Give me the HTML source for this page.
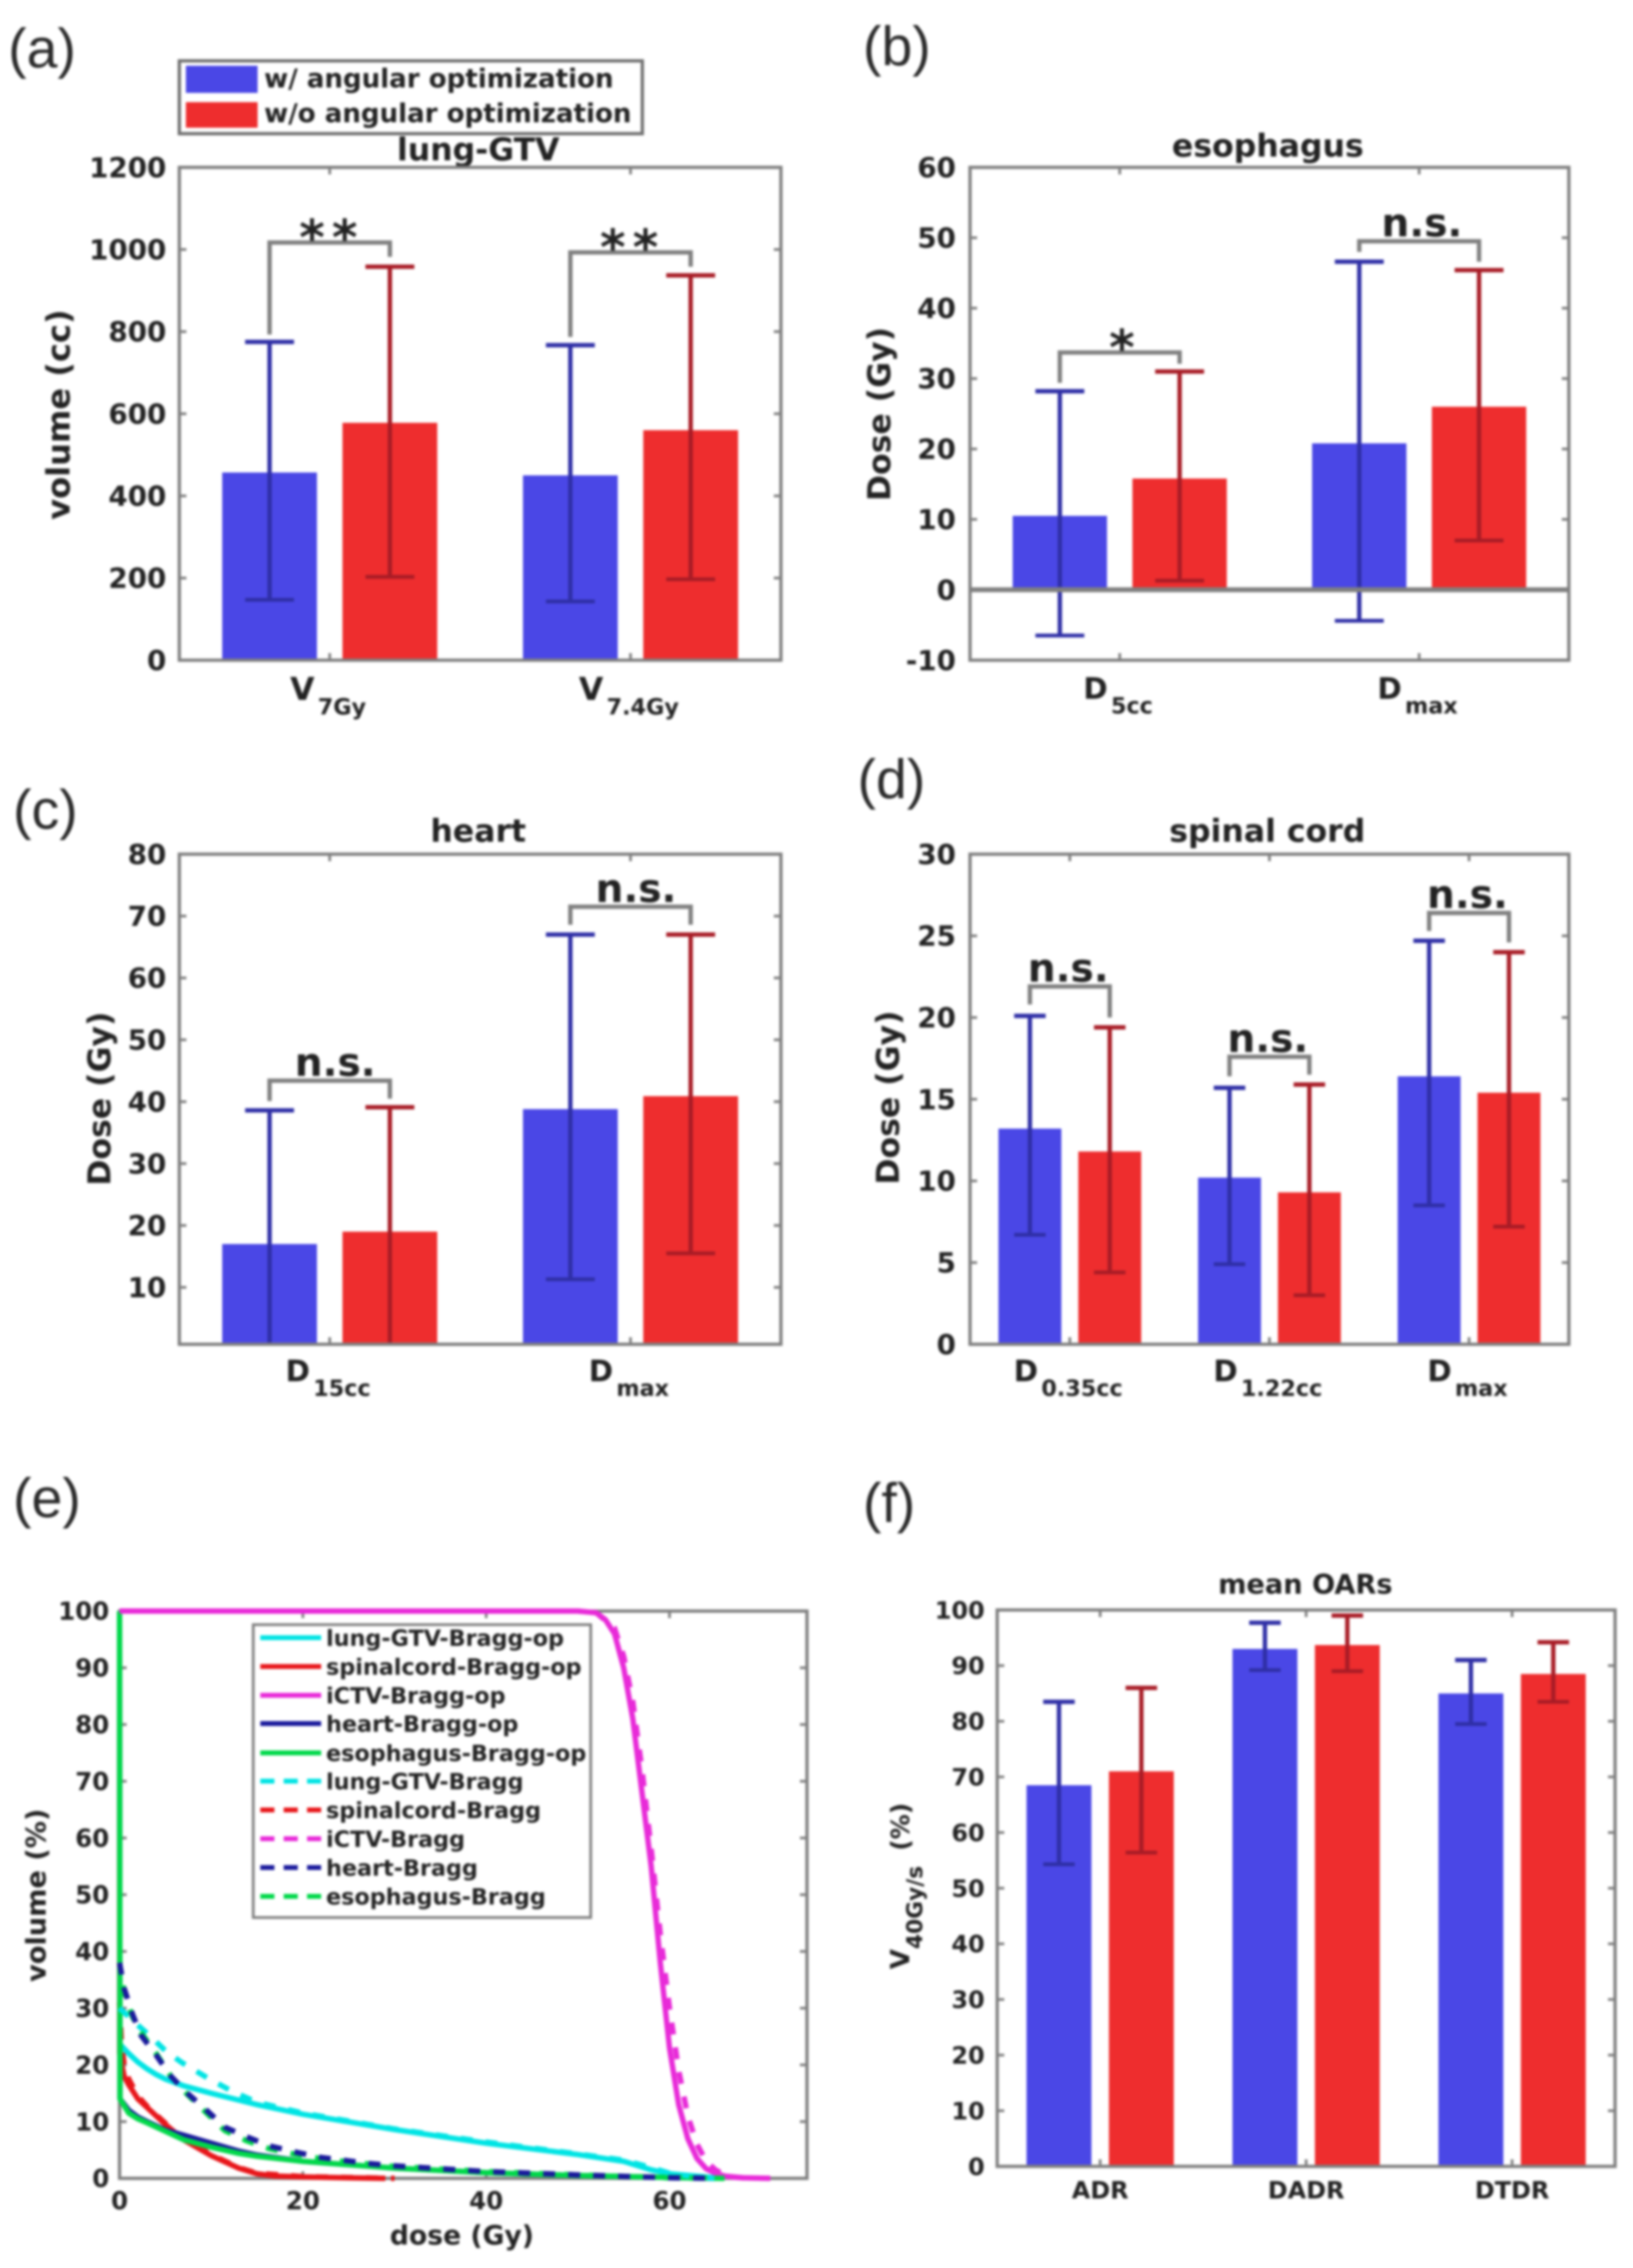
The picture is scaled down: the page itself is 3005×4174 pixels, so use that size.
<!DOCTYPE html>
<html lang="en">
<head>
<meta charset="utf-8">
<title>Angular optimization dosimetric comparison</title>
<style>
html,body{margin:0;padding:0;background:#fff;}
svg{display:block;filter:blur(2.4px);}
text{font-family:"DejaVu Sans","Liberation Sans",sans-serif;font-weight:bold;fill:#222;}
.panel-label{font-family:"Liberation Sans",sans-serif;font-weight:normal;font-size:102px;fill:#2a2a2a;}
</style>
</head>
<body>
<svg id="figure" xmlns="http://www.w3.org/2000/svg" width="3005" height="4174" viewBox="0 0 3005 4174">
<rect x="0" y="0" width="3005" height="4174" fill="#fff"/>

<g id="panel-a">
  <text class="panel-label" x="15" y="124">(a)</text>
  <text x="880" y="295" text-anchor="middle" font-size="58">lung-GTV</text>
  <text transform="translate(128,763) rotate(-90)" text-anchor="middle" font-size="59">volume (cc)</text>
</g>
<g id="panel-b">
  <text class="panel-label" x="1588" y="120">(b)</text>
  <text x="2333" y="288" text-anchor="middle" font-size="58">esophagus</text>
  <text transform="translate(1638,762) rotate(-90)" text-anchor="middle" font-size="58">Dose (Gy)</text>
</g>
<g id="panel-c">
  <text class="panel-label" x="24" y="1525">(c)</text>
  <text x="880" y="1549" text-anchor="middle" font-size="58">heart</text>
  <text transform="translate(203,2022) rotate(-90)" text-anchor="middle" font-size="58">Dose (Gy)</text>
</g>
<g id="panel-d">
  <text class="panel-label" x="1578" y="1469">(d)</text>
  <text x="2332" y="1549" text-anchor="middle" font-size="58">spinal cord</text>
  <text transform="translate(1654,2020) rotate(-90)" text-anchor="middle" font-size="58">Dose (Gy)</text>
</g>
<g id="panel-e">
  <text class="panel-label" x="24" y="2792">(e)</text>
  <text x="850" y="4131" text-anchor="middle" font-size="49">dose (Gy)</text>
  <text transform="translate(84,3488) rotate(-90)" text-anchor="middle" font-size="50">volume (%)</text>
</g>
<g id="panel-f">
  <text class="panel-label" x="1588" y="2801">(f)</text>
  <text x="2402" y="2933" text-anchor="middle" font-size="50">mean OARs</text>
  <text transform="translate(1673,3471) rotate(-90)" text-anchor="middle" font-size="48">V<tspan font-size="40" dy="24">40Gy/s</tspan><tspan dy="-24" font-size="46" dx="28">(%)</tspan></text>
</g>

<g id="dvh-legend" transform="translate(2,-1)">
  <rect x="464" y="2991" width="621" height="539" fill="#fff" stroke="#808080" stroke-width="5"/>
  <g font-size="41">
    <line x1="477" x2="589" y1="3015" y2="3015" stroke="#00e4e4" stroke-width="9"/>
    <text x="598" y="3030">lung-GTV-Bragg-op</text>
    <line x1="477" x2="589" y1="3068" y2="3068" stroke="#e8161a" stroke-width="9"/>
    <text x="598" y="3083">spinalcord-Bragg-op</text>
    <line x1="477" x2="589" y1="3121" y2="3121" stroke="#e82ad8" stroke-width="9"/>
    <text x="598" y="3136">iCTV-Bragg-op</text>
    <line x1="477" x2="589" y1="3173" y2="3173" stroke="#1a1a9c" stroke-width="9"/>
    <text x="598" y="3188">heart-Bragg-op</text>
    <line x1="477" x2="589" y1="3227" y2="3227" stroke="#00d84a" stroke-width="9"/>
    <text x="598" y="3242">esophagus-Bragg-op</text>
    <line x1="477" x2="589" y1="3279" y2="3279" stroke="#00e4e4" stroke-width="9" stroke-dasharray="26 17"/>
    <text x="598" y="3294">lung-GTV-Bragg</text>
    <line x1="477" x2="589" y1="3332" y2="3332" stroke="#e8161a" stroke-width="9" stroke-dasharray="26 17"/>
    <text x="598" y="3347">spinalcord-Bragg</text>
    <line x1="477" x2="589" y1="3385" y2="3385" stroke="#e82ad8" stroke-width="9" stroke-dasharray="26 17"/>
    <text x="598" y="3400">iCTV-Bragg</text>
    <line x1="477" x2="589" y1="3438" y2="3438" stroke="#1a1a9c" stroke-width="9" stroke-dasharray="26 17"/>
    <text x="598" y="3453">heart-Bragg</text>
    <line x1="477" x2="589" y1="3491" y2="3491" stroke="#00d84a" stroke-width="9" stroke-dasharray="26 17"/>
    <text x="598" y="3506">esophagus-Bragg</text>
  </g>
</g>

<g id="legend-a">
  <rect x="330" y="112" width="852" height="134" fill="#fff" stroke="#707070" stroke-width="6"/>
  <rect x="342" y="121" width="132" height="50" fill="#4a47e6"/>
  <rect x="342" y="188" width="132" height="47" fill="#ee2d2e"/>
  <text x="486" y="161" font-size="48">w/ angular optimization</text>
  <text x="486" y="225" font-size="48">w/o angular optimization</text>
</g>
</svg>

<script>
/* ---------- (a) lung-GTV ---------- */
const aLabelMain = ['V','V'];
const aLabelSub = ['7Gy','7.4Gy'];
const aBlue = [457,450];
const aRed = [578,560];
const aBlueHigh = [775,767];
const aBlueLow = [147,143];
const aRedHigh = [958,937];
const aRedLow = [203,197];
const aTicks = [0,200,400,600,800,1000,1200];
const aBracketLevel = [1017,993];
const aBracketLeftEnd = [793,787];
const aBracketRightEnd = [982,958];
const aSignificance = ['**','**'];

/* ---------- (b) esophagus ---------- */
const bLabelMain = ['D','D'];
const bLabelSub = ['5cc','max'];
const bBlue = [10.5,20.8];
const bRed = [15.8,26];
const bBlueHigh = [28.2,46.6];
const bBlueLow = [-6.5,-4.4];
const bRedHigh = [31,45.4];
const bRedLow = [1.3,7];
const bTicks = [-10,0,10,20,30,40,50,60];
const bBracketLevel = [33.7,49.5];
const bBracketLeftEnd = [29.4,48];
const bBracketRightEnd = [32.1,46.6];
const bSignificance = ['*','n.s.'];

/* ---------- (c) heart ---------- */
const cLabelMain = ['D','D'];
const cLabelSub = ['15cc','max'];
const cBlue = [17,38.8];
const cRed = [19,40.9];
const cBlueHigh = [38.6,67];
const cBlueLow = [-5,11.3];
const cRedHigh = [39.1,67];
const cRedLow = [-1,15.5];
const cTicks = [10,20,30,40,50,60,70,80];
const cBracketLevel = [43.4,71.5];
const cBracketLeftEnd = [40.1,68.6];
const cBracketRightEnd = [40.5,68.6];
const cSignificance = ['n.s.','n.s.'];

/* ---------- (d) spinal cord ---------- */
const dLabelMain = ['D','D','D'];
const dLabelSub = ['0.35cc','1.22cc','max'];
const dBlue = [13.2,10.2,16.4];
const dRed = [11.8,9.3,15.4];
const dBlueHigh = [20.1,15.7,24.7];
const dBlueLow = [6.7,4.9,8.5];
const dRedHigh = [19.4,15.9,24];
const dRedLow = [4.4,3,7.2];
const dTicks = [0,5,10,15,20,25,30];
const dBracketLevel = [21.9,17.6,26.4];
const dBracketLeftEnd = [20.8,16.4,25.3];
const dBracketRightEnd = [20,16.5,24.6];
const dSignificance = ['n.s.','n.s.','n.s.'];

/* ---------- (f) mean OARs ---------- */
const fLabelMain = ['ADR','DADR','DTDR'];
const fLabelSub = ['','',''];
const fBlue = [68.5,93,85];
const fRed = [71,93.7,88.5];
const fBlueHigh = [83.5,97.7,91];
const fBlueLow = [54.3,89.2,79.5];
const fRedHigh = [86,99,94.2];
const fRedLow = [56.4,89,83.5];
const fTicks = [0,10,20,30,40,50,60,70,80,90,100];

/* ---------- (e) dose volume histogram ---------- */
const eXTicks = [0,20,40,60];
const eYTicks = [0,10,20,30,40,50,60,70,80,90,100];

const lungOpDose = [0,1,2,3,4,5,7,10,15,20,30,40,50,55,58,60,65,66];
const lungOpVol = [23.7,22,20.5,19.3,18.3,17.5,16.3,15,13,11.3,8.6,6.2,4.2,3,1.5,0.8,0.1,0];
const spinalOpDose = [0,0.02,0.5,1,2,3,5,7,10,13,15,17,20,25,29];
const spinalOpVol = [100,22,18,16.5,14,12.5,9.5,6.8,4,1.8,0.8,0.4,0.25,0.1,0];
const ictvOpDose = [0,50,52,53,54,55,56,57,58,59,60,61,62,63,64,65,66,68,71];
const ictvOpVol = [100,100,99.7,98.5,96,90,81,68,55,38,23,13,7,3.5,1.7,0.9,0.4,0.1,0];
const heartOpDose = [0,0.05,1,2,3,5,7,10,13,15,20,30,40,50,60,65];
const heartOpVol = [100,14,12,10.8,10,8.5,7.6,6.2,4.8,4.1,3,1.8,1,0.5,0.15,0];
const esoOpDose = [0,0.05,1,2,3,5,7,10,13,15,20,30,40,50,60,66];
const esoOpVol = [100,14,11.5,10.5,9.8,8.3,6.8,5.5,4.4,3.9,3,1.8,1,0.5,0.15,0];

const lungDose = [0,2,3.4,5,6.8,9.6,12.2,15,20,30,40,50,55,58,60,63,65];
const lungVol = [30,27,25,22.5,20.4,17.7,15.4,13.4,11.5,8.7,6.4,4.3,3.2,1.9,0.9,0.2,0];
const spinalDose = [0,0.2,0.5,1,2,3,5,7,10,13,15,20,30];
const spinalVol = [31,24,20,17.5,14.5,12.7,9.7,7,4.2,1.9,0.9,0.3,0];
const ictvDose = [0,50,52,54,55,56,57,58,59,60,61,62,63,64,65,66,67,69];
const ictvVol = [100,100,99.7,97,92,84,72,58,43,30,19,11,6,3,1.5,0.6,0.2,0];
const heartDose = [0,0.5,1.4,2.3,4,5.6,7.4,9.5,11.5,13.9,16.4,19.3,21.9,24.4,27.3,30,40,50,60,65];
const heartVol = [38,33.5,29,25.3,21.7,18,15,12,9,7.3,5.7,4.6,3.7,3.2,2.6,2.2,1.2,0.6,0.1,0];
const esoDose = [0,0.5,1.4,2.3,4,5.6,7.4,9.5,11.5,13.9,16.4,19.3,21.9,24.4,27.3,30,40,50,60,65];
const esoVol = [37,33,28.5,25.8,22,18,14.8,11.5,8.4,6.6,5.2,4.2,3.5,3,2.5,2.1,1.2,0.6,0.1,0];

const BLUE = '#4a47e6', RED = '#ee2d2e', AXIS = '#808080';
const BLUE_ERR = '#2f2fa6', RED_ERR = '#a81c26';
const NS = 'http://www.w3.org/2000/svg';

function mk(parent, tag, attrs, text) {
  const el = document.createElementNS(NS, tag);
  for (const k in attrs) el.setAttribute(k, attrs[k]);
  if (text !== undefined) el.textContent = text;
  parent.appendChild(el);
  return el;
}

/* Shared frame: inner ticks on all four sides, y tick labels */
function drawFrame(g, box, yTicks, yScale, xTickPositions, opt) {
  const len = 13;
  yTicks.forEach(function (v) {
    const y = yScale(v);
    const t1 = mk(g, 'line', {x1: box.l, x2: box.l + len, y1: y, y2: y, stroke: AXIS, 'stroke-width': 5});
    
    
    const t2 = mk(g, 'line', {x1: box.r - len, x2: box.r, y1: y, y2: y, stroke: AXIS, 'stroke-width': 5});
    
    
    const lab = mk(g, 'text', {x: opt.tickRight, y: y + opt.tickFont * 0.36, 'text-anchor': 'end', 'font-size': opt.tickFont}, String(v));
    
    
  });
  xTickPositions.forEach(function (x) {
    const t1 = mk(g, 'line', {x1: x, x2: x, y1: box.b, y2: box.b - len, stroke: AXIS, 'stroke-width': 5});
    
    
    const t2 = mk(g, 'line', {x1: x, x2: x, y1: box.t, y2: box.t + len, stroke: AXIS, 'stroke-width': 5});
    
    
  });
}

function drawBox(g, box) {
  const r = mk(g, 'rect', {x: box.l, y: box.t, width: box.r - box.l, height: box.b - box.t, fill: 'none', stroke: AXIS, 'stroke-width': 6});
  
  
}

function drawBars(c) {
  const g = document.getElementById(c.id);
  const box = c.box, n = c.blue.length;
  const unit = (box.r - box.l) / n;
  const xCat = function (i) { return box.l + (i + 0.5) * unit; };
  const yScale = function (v) { return box.b - (v - c.ylim[0]) / (c.ylim[1] - c.ylim[0]) * (box.b - box.t); };
  const clampY = function (v) { return Math.min(box.b, Math.max(box.t, yScale(v))); };
  const tickXs = [];
  for (let i = 0; i < n; i++) tickXs.push(xCat(i));
  drawFrame(g, box, c.ticks, yScale, tickXs, {tickRight: c.tickRight, tickFont: c.tickFont});

  const offset = 0.2 * unit, bw = 0.315 * unit, cap = c.capWidth;
  const y0 = Math.max(c.ylim[0], 0);

  for (let i = 0; i < n; i++) {
    const cx = xCat(i);
    const bx = cx - offset, rx = cx + offset;

    const b1 = mk(g, 'rect', {x: bx - bw / 2, y: yScale(c.blue[i]), width: bw, height: yScale(y0) - yScale(c.blue[i]), fill: BLUE});
    
    
    const b2 = mk(g, 'rect', {x: rx - bw / 2, y: yScale(c.red[i]), width: bw, height: yScale(y0) - yScale(c.red[i]), fill: RED});
    
    

    [[bx, c.blueHigh[i], c.blueLow[i], BLUE_ERR], [rx, c.redHigh[i], c.redLow[i], RED_ERR]].forEach(function (e) {
      const stem = mk(g, 'line', {x1: e[0], x2: e[0], y1: clampY(e[1]), y2: clampY(e[2]), stroke: e[3], 'stroke-width': 8});
      
      
      const top = mk(g, 'line', {x1: e[0] - cap / 2, x2: e[0] + cap / 2, y1: clampY(e[1]), y2: clampY(e[1]), stroke: e[3], 'stroke-width': 8});
      
      
      if (e[2] > c.ylim[0]) {
        const low = mk(g, 'line', {x1: e[0] - cap / 2, x2: e[0] + cap / 2, y1: yScale(e[2]), y2: yScale(e[2]), stroke: e[3], 'stroke-width': 7});
        
        
      }
    });

    const lab = mk(g, 'text', {x: cx + c.labelDx, y: c.labelY, 'text-anchor': 'middle', 'font-size': c.labelFont});
    
    
    const main = mk(lab, 'tspan', {}, c.labelMain[i]);
    
    
    if (c.labelSub[i]) {
      const sub = mk(lab, 'tspan', {'font-size': 41, dy: 27, dx: 6}, c.labelSub[i]);
      
      
    }

    if (c.level) {
      const p = mk(g, 'path', {
        d: 'M' + bx + ' ' + yScale(c.leftEnd[i]) + ' V' + yScale(c.level[i]) + ' H' + rx + ' V' + yScale(c.rightEnd[i]),
        fill: 'none', stroke: AXIS, 'stroke-width': 8
      });
      
      
      const sig = c.sig[i], ly = yScale(c.level[i]);
      if (sig.indexOf('*') >= 0) {
        const s = mk(g, 'text', {x: cx + 4, y: ly + 22, 'text-anchor': 'middle', 'font-size': 90, 'letter-spacing': sig.length > 1 ? 13 : 0}, sig);
        
        
      } else {
        const s = mk(g, 'text', {x: cx + c.sigDx, y: ly - 9, 'text-anchor': 'middle', 'font-size': 72}, sig);
        
        
      }
    }
  }

  if (c.ylim[0] < 0) {
    const z = mk(g, 'line', {x1: box.l, x2: box.r, y1: yScale(0), y2: yScale(0), stroke: AXIS, 'stroke-width': 9});
    
    
  }
  drawBox(g, box);
}

drawBars({id: 'panel-a', box: {l: 330, r: 1437, t: 308, b: 1215}, ylim: [0, 1200], ticks: aTicks,
  tickRight: 306, tickFont: 51, labelY: 1288, labelFont: 58, labelDx: -3, sigDx: 10, capWidth: 90,
  labelMain: aLabelMain, labelSub: aLabelSub, blue: aBlue, red: aRed,
  blueHigh: aBlueHigh, blueLow: aBlueLow, redHigh: aRedHigh, redLow: aRedLow,
  level: aBracketLevel, leftEnd: aBracketLeftEnd, rightEnd: aBracketRightEnd, sig: aSignificance});

drawBars({id: 'panel-b', box: {l: 1785, r: 2887, t: 308, b: 1215}, ylim: [-10, 60], ticks: bTicks,
  tickRight: 1759, tickFont: 51, labelY: 1286, labelFont: 54, labelDx: -3, sigDx: 5, capWidth: 90,
  labelMain: bLabelMain, labelSub: bLabelSub, blue: bBlue, red: bRed,
  blueHigh: bBlueHigh, blueLow: bBlueLow, redHigh: bRedHigh, redLow: bRedLow,
  level: bBracketLevel, leftEnd: bBracketLeftEnd, rightEnd: bBracketRightEnd, sig: bSignificance});

drawBars({id: 'panel-c', box: {l: 330, r: 1437, t: 1572, b: 2474}, ylim: [0.8, 80], ticks: cTicks,
  tickRight: 306, tickFont: 51, labelY: 2542, labelFont: 54, labelDx: -3, sigDx: 10, capWidth: 90,
  labelMain: cLabelMain, labelSub: cLabelSub, blue: cBlue, red: cRed,
  blueHigh: cBlueHigh, blueLow: cBlueLow, redHigh: cRedHigh, redLow: cRedLow,
  level: cBracketLevel, leftEnd: cBracketLeftEnd, rightEnd: cBracketRightEnd, sig: cSignificance});

drawBars({id: 'panel-d', box: {l: 1785, r: 2887, t: 1572, b: 2474}, ylim: [0, 30], ticks: dTicks,
  tickRight: 1759, tickFont: 51, labelY: 2542, labelFont: 54, labelDx: -3, sigDx: -3, capWidth: 58,
  labelMain: dLabelMain, labelSub: dLabelSub, blue: dBlue, red: dRed,
  blueHigh: dBlueHigh, blueLow: dBlueLow, redHigh: dRedHigh, redLow: dRedLow,
  level: dBracketLevel, leftEnd: dBracketLeftEnd, rightEnd: dBracketRightEnd, sig: dSignificance});

drawBars({id: 'panel-f', box: {l: 1835, r: 2972, t: 2963, b: 3987}, ylim: [0, 100], ticks: fTicks,
  tickRight: 1812, tickFont: 44, labelY: 4046, labelFont: 44, labelDx: 0, sigDx: 0, capWidth: 58,
  labelMain: fLabelMain, labelSub: fLabelSub, blue: fBlue, red: fRed,
  blueHigh: fBlueHigh, blueLow: fBlueLow, redHigh: fRedHigh, redLow: fRedLow});

/* ---------- DVH chart ---------- */
(function () {
  const g = document.getElementById('panel-e');
  const box = {l: 220, r: 1485, t: 2965, b: 4009};
  const xMax = 75, yMax = 100;
  const xScale = function (v) { return box.l + v / xMax * (box.r - box.l); };
  const yScale = function (v) { return box.b - v / yMax * (box.b - box.t); };
  drawFrame(g, box, eYTicks, yScale, eXTicks.map(xScale), {tickRight: 201, tickFont: 45});
  eXTicks.forEach(function (v) {
    const t = mk(g, 'text', {x: xScale(v), y: 4066, 'text-anchor': 'middle', 'font-size': 45}, String(v));
    
    
  });
  drawBox(g, box);

  const toPath = function (xs, ys) {
    return xs.map(function (x, i) { return (i ? 'L' : 'M') + xScale(x).toFixed(1) + ' ' + yScale(ys[i]).toFixed(1); }).join(' ');
  };

  const dashedUnder = [
    [spinalDose, spinalVol, '#e8161a', 0]
  ];
  dashedUnder.forEach(function (s) {
    const p = mk(g, 'path', {d: toPath(s[0], s[1]), fill: 'none', stroke: s[2], 'stroke-width': 10, 'stroke-dasharray': '22 24'});
    
    
  });
  const solid = [
    [spinalOpDose, spinalOpVol, '#e8161a'],
    [lungOpDose, lungOpVol, '#00e4e4'],
    [ictvOpDose, ictvOpVol, '#e82ad8'],
    [heartOpDose, heartOpVol, '#1a1a9c'],
    [esoOpDose, esoOpVol, '#00d84a']
  ];
  solid.forEach(function (s) {
    const p = mk(g, 'path', {d: toPath(s[0], s[1]), fill: 'none', stroke: s[2], 'stroke-width': 10, 'stroke-linejoin': 'round'});
    
    
  });
  const dashed = [
    [lungDose, lungVol, '#00e4e4', 0],
    [ictvDose, ictvVol, '#e82ad8', 0],
    [esoDose, esoVol, '#00d84a', 14],
    [heartDose, heartVol, '#1a1a9c', 0]
  ];
  dashed.forEach(function (s) {
    const p = mk(g, 'path', {d: toPath(s[0], s[1]), fill: 'none', stroke: s[2], 'stroke-width': 10, 'stroke-dasharray': '22 24', 'stroke-dashoffset': s[3]});
    
    
  });

  /* Keep the legends above the curves */
  const figure = document.getElementById('figure');
  figure.appendChild(document.getElementById('dvh-legend'));
  figure.appendChild(document.getElementById('legend-a'));
})();
</script>
</body>
</html>
